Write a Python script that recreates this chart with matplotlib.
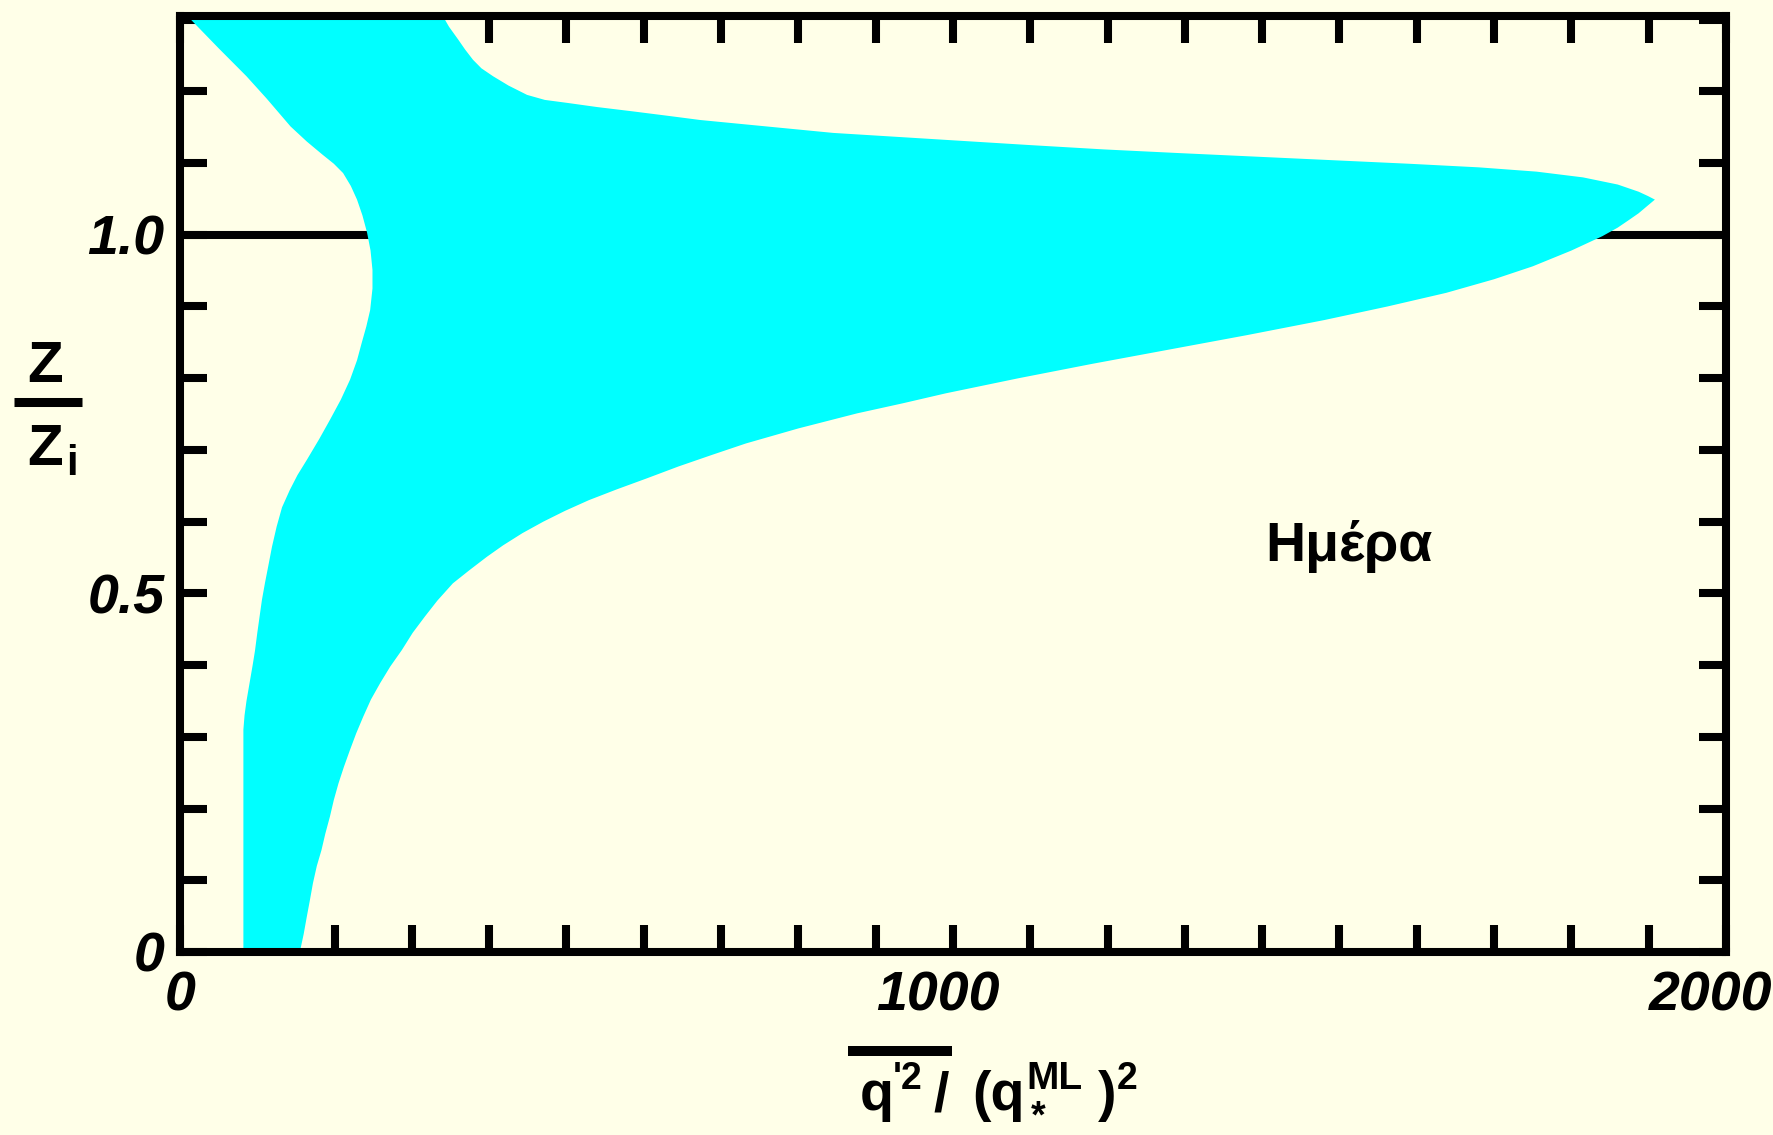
import matplotlib.pyplot as plt
from matplotlib.lines import Line2D
from matplotlib.ticker import MultipleLocator
from matplotlib.transforms import ScaledTranslation

# Shaded band: left edge, read bottom to top (z/zi, x)
z_left = [0.0, 0.31, 0.33, 0.35, 0.375, 0.40, 0.42, 0.445, 0.468, 0.491,
          0.515, 0.537, 0.565, 0.593, 0.62, 0.644, 0.665, 0.686, 0.715, 0.742,
          0.77, 0.798, 0.825, 0.849, 0.872, 0.895, 0.925, 0.951, 0.978, 1.003,
          1.027, 1.049, 1.068, 1.086, 1.099, 1.112, 1.13, 1.151, 1.19, 1.221,
          1.26, 1.30, 1.31]
x_left = [82, 82, 83.5, 86, 90, 94, 97, 100, 103, 106,
          110, 114, 119, 125, 132, 142, 152, 164, 180, 194,
          208, 220, 229, 235, 241, 246, 249, 249, 246.5, 242,
          236, 229, 221, 211, 199, 184, 164, 143, 112, 86,
          50, 14, 5]

# right edge, read top to bottom
z_right = [1.31, 1.305, 1.29, 1.272, 1.258, 1.244, 1.232, 1.221, 1.208, 1.195,
           1.188, 1.184, 1.178, 1.172, 1.166, 1.160, 1.151, 1.142, 1.137, 1.131,
           1.125, 1.119, 1.114, 1.109, 1.104, 1.099, 1.094, 1.088, 1.080, 1.070,
           1.060, 1.054, 1.049, 1.040, 1.030, 1.021, 1.010, 0.998, 0.978, 0.956,
           0.938, 0.919, 0.90, 0.881, 0.86, 0.84, 0.82, 0.80, 0.779, 0.765,
           0.751, 0.73, 0.709, 0.693, 0.677, 0.66, 0.645, 0.63, 0.615, 0.60,
           0.584, 0.567, 0.551, 0.532, 0.514, 0.49, 0.468, 0.445, 0.421, 0.398,
           0.375, 0.352, 0.328, 0.305, 0.282, 0.258, 0.235, 0.212, 0.189, 0.165,
           0.142, 0.12, 0.096, 0.072, 0.049, 0.025, 0.0]
x_right = [336, 340, 348, 360, 369, 379, 390, 405, 425, 449,
           472, 500, 540, 586, 630, 673, 759, 845, 920, 1010,
           1100, 1195, 1290, 1390, 1490, 1590, 1680, 1755, 1815, 1860,
           1887, 1899, 1908, 1898, 1887, 1875, 1860, 1840, 1800, 1750,
           1700, 1638, 1562, 1480, 1380, 1280, 1180, 1085, 991, 935,
           876, 800, 732, 688, 645, 603, 565, 529, 498, 470,
           443, 418, 397, 374, 353, 333, 317, 301, 287, 272,
           259, 247, 237, 228, 220, 212, 205, 199, 194, 188,
           183, 177, 172, 168, 164, 160, 155]

x_ticks = [0, 1000, 2000]
x_ticklabels = ['0', '1000', '2000']
y_ticks = [0, 0.5, 1.0]
y_ticklabels = ['0', '0.5', '1.0']

bg = '#FFFFE8'
cyan = '#00FFFF'
W, H = 1774, 1135
font = 'Liberation Sans'

fig = plt.figure(figsize=(W / 100, H / 100), dpi=100, facecolor=bg)
ax = fig.add_axes([180 / W, 1 - 952 / H, (1726 - 180) / W, (952 - 16) / H])
ax.set_facecolor(bg)

# band and the z = zi line (the band sits on top of the line)
ax.fill(x_left + x_right, z_left + z_right, color=cyan, lw=0, zorder=2)
ax.axhline(1.0, color='k', lw=5.8, zorder=1.8)

ax.set_xlim(0, 2000)
ax.set_ylim(0, 1.305)

ax.set_xticks(x_ticks)
ax.set_yticks(y_ticks)
ax.xaxis.set_minor_locator(MultipleLocator(100))
ax.yaxis.set_minor_locator(MultipleLocator(0.1))
tick_font = dict(fontsize=40, fontweight='bold', fontstyle='italic', family=font)
ax.set_xticklabels(x_ticklabels, **tick_font)
ax.set_yticklabels(y_ticklabels, **tick_font)
ax.tick_params(which='both', direction='in', length=19.5, width=5.8,
               top=True, right=True, color='k')
ax.tick_params(axis='x', pad=13)
ax.tick_params(axis='y', pad=11)

# 1000 and 2000 sit a little left of their ticks in the original
shift = ScaledTranslation(-0.15, 0, fig.dpi_scale_trans)
for lab in ax.get_xticklabels()[1:]:
    lab.set_transform(lab.get_transform() + shift)

for s in ax.spines.values():
    s.set_linewidth(5.8)
    s.set_zorder(3)

ax.text(1512, 0.565, 'Ημέρα', ha='center', va='center', fontsize=40,
        fontweight='bold', family=font)

# y label: Z over Zi
def fx(px):
    return px / W

def fy(py):
    return 1 - py / H

fig.text(fx(45.5), fy(382), 'Z', ha='center', va='baseline', fontsize=42,
         fontweight='bold', family=font)
fig.add_artist(Line2D([fx(14), fx(82)], [fy(401.5), fy(401.5)], color='k',
                      lw=6.5, solid_capstyle='butt'))
fig.text(fx(45.5), fy(465), 'Z', ha='center', va='baseline', fontsize=42,
         fontweight='bold', family=font)
fig.text(fx(66), fy(475), 'i', ha='left', va='baseline', fontsize=30,
         fontweight='bold', family=font)

# x label: overline(q'^2) / (q_*^ML)^2
base = dict(va='baseline', fontweight='bold', family=font)
fig.text(fx(860), fy(1110), 'q', fontsize=40, **base)
fig.text(fx(893), fy(1089), "'2", fontsize=27, **base)
fig.add_artist(Line2D([fx(848), fx(952)], [fy(1051), fy(1051)], color='k',
                      lw=7.2, solid_capstyle='butt'))
fig.text(fx(933), fy(1110), '/', fontsize=40, **base)
fig.text(fx(972), fy(1110), '(q', fontsize=40, **base)
fig.text(fx(1026), fy(1089), 'ML', fontsize=28, **base)
fig.text(fx(1031), fy(1127), '*', fontsize=27, **base)
fig.text(fx(1098), fy(1110), ')', fontsize=40, **base)
fig.text(fx(1117), fy(1089), '2', fontsize=27, **base)

fig.savefig('out.png', dpi=100, facecolor=bg)
